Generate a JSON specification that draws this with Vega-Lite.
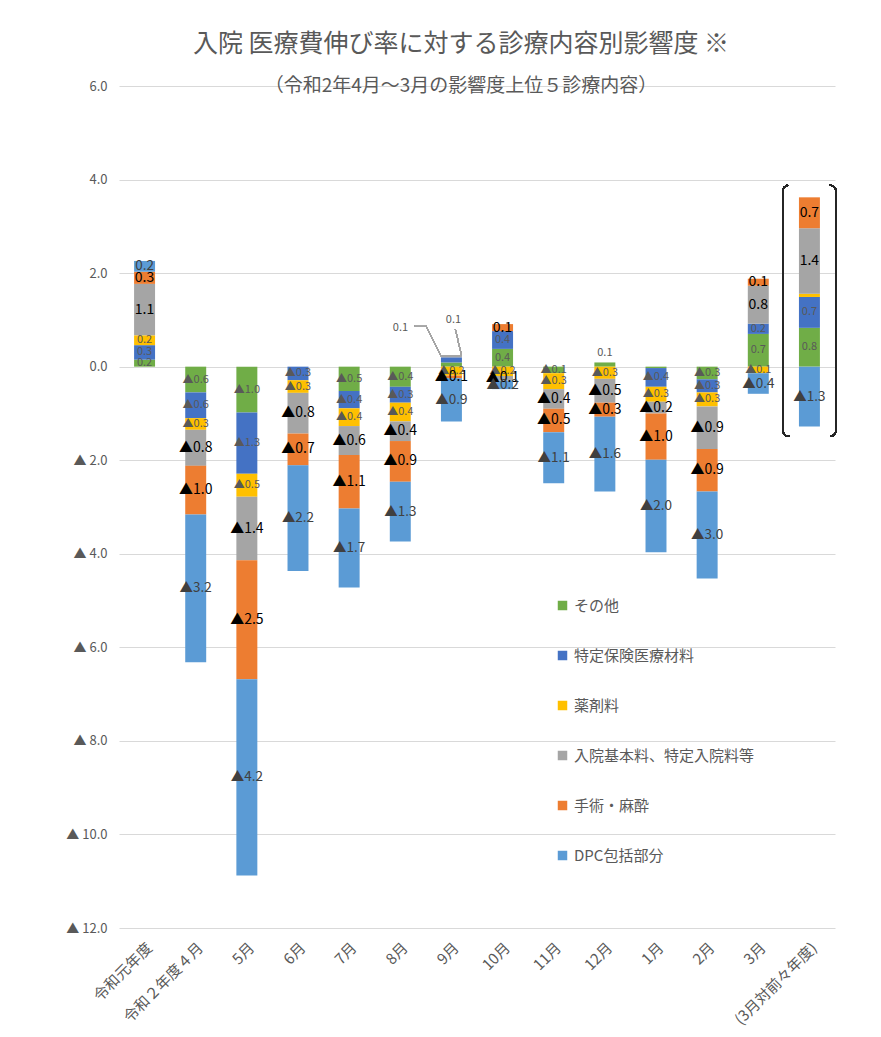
{
  "$schema": "https://vega.github.io/schema/vega-lite/v6.json",
  "width": 716,
  "height": 842,
  "autosize": "none",
  "padding": {"left": 119, "top": 86, "right": 46, "bottom": 109},
  "background": "white",
  "config": {"view": {"stroke": null}, "font": "Noto Sans CJK JP"},
  "title": {
    "text": "入院 医療費伸び率に対する診療内容別影響度 ※",
    "subtitle": "（令和2年4月～3月の影響度上位５診療内容）",
    "fontSize": 25,
    "subtitleFontSize": 19,
    "color": "#595959",
    "subtitleColor": "#595959",
    "fontWeight": "normal",
    "font": "Noto Sans CJK JP",
    "subtitleFont": "Noto Sans CJK JP",
    "anchor": "middle",
    "offset": -16,
    "dx": -16,
    "subtitlePadding": 20
  },
  "data": {"values": [
    {"m": "令和元年度", "c": "その他", "v": 0.15, "t": "0.2", "o": 1},
    {"m": "令和元年度", "c": "特定保険医療材料", "v": 0.31, "t": "0.3", "o": 2},
    {"m": "令和元年度", "c": "薬剤料", "v": 0.21, "t": "0.2", "o": 3},
    {"m": "令和元年度", "c": "入院基本料、特定入院料等", "v": 1.1, "t": "1.1", "o": 4},
    {"m": "令和元年度", "c": "手術・麻酔", "v": 0.26, "t": "0.3", "o": 5},
    {"m": "令和元年度", "c": "DPC包括部分", "v": 0.23, "t": "0.2", "o": 6},
    {"m": "令和２年度４月", "c": "その他", "v": -0.55, "t": "▲0.6", "o": 1},
    {"m": "令和２年度４月", "c": "特定保険医療材料", "v": -0.55, "t": "▲0.6", "o": 2},
    {"m": "令和２年度４月", "c": "薬剤料", "v": -0.25, "t": "▲0.3", "o": 3},
    {"m": "令和２年度４月", "c": "入院基本料、特定入院料等", "v": -0.77, "t": "▲0.8", "o": 4},
    {"m": "令和２年度４月", "c": "手術・麻酔", "v": -1.04, "t": "▲1.0", "o": 5},
    {"m": "令和２年度４月", "c": "DPC包括部分", "v": -3.16, "t": "▲3.2", "o": 6},
    {"m": "5月", "c": "その他", "v": -0.98, "t": "▲1.0", "o": 1},
    {"m": "5月", "c": "特定保険医療材料", "v": -1.31, "t": "▲1.3", "o": 2},
    {"m": "5月", "c": "薬剤料", "v": -0.49, "t": "▲0.5", "o": 3},
    {"m": "5月", "c": "入院基本料、特定入院料等", "v": -1.36, "t": "▲1.4", "o": 4},
    {"m": "5月", "c": "手術・麻酔", "v": -2.54, "t": "▲2.5", "o": 5},
    {"m": "5月", "c": "DPC包括部分", "v": -4.2, "t": "▲4.2", "o": 6},
    {"m": "6月", "c": "特定保険医療材料", "v": -0.29, "t": "▲0.3", "o": 2},
    {"m": "6月", "c": "薬剤料", "v": -0.27, "t": "▲0.3", "o": 3},
    {"m": "6月", "c": "入院基本料、特定入院料等", "v": -0.87, "t": "▲0.8", "o": 4},
    {"m": "6月", "c": "手術・麻酔", "v": -0.68, "t": "▲0.7", "o": 5},
    {"m": "6月", "c": "DPC包括部分", "v": -2.26, "t": "▲2.2", "o": 6},
    {"m": "7月", "c": "その他", "v": -0.52, "t": "▲0.5", "o": 1},
    {"m": "7月", "c": "特定保険医療材料", "v": -0.37, "t": "▲0.4", "o": 2},
    {"m": "7月", "c": "薬剤料", "v": -0.38, "t": "▲0.4", "o": 3},
    {"m": "7月", "c": "入院基本料、特定入院料等", "v": -0.62, "t": "▲0.6", "o": 4},
    {"m": "7月", "c": "手術・麻酔", "v": -1.14, "t": "▲1.1", "o": 5},
    {"m": "7月", "c": "DPC包括部分", "v": -1.69, "t": "▲1.7", "o": 6},
    {"m": "8月", "c": "その他", "v": -0.43, "t": "▲0.4", "o": 1},
    {"m": "8月", "c": "特定保険医療材料", "v": -0.34, "t": "▲0.3", "o": 2},
    {"m": "8月", "c": "薬剤料", "v": -0.4, "t": "▲0.4", "o": 3},
    {"m": "8月", "c": "入院基本料、特定入院料等", "v": -0.42, "t": "▲0.4", "o": 4},
    {"m": "8月", "c": "手術・麻酔", "v": -0.87, "t": "▲0.9", "o": 5},
    {"m": "8月", "c": "DPC包括部分", "v": -1.28, "t": "▲1.3", "o": 6},
    {"m": "9月", "c": "その他", "v": 0.09, "t": "0.1", "o": 1},
    {"m": "9月", "c": "特定保険医療材料", "v": 0.11, "t": "0.1", "o": 2},
    {"m": "9月", "c": "薬剤料", "v": -0.19, "t": "▲0.2", "o": 3},
    {"m": "9月", "c": "入院基本料、特定入院料等", "v": 0.05, "t": "", "o": 4},
    {"m": "9月", "c": "手術・麻酔", "v": -0.06, "t": "▲0.1", "o": 5},
    {"m": "9月", "c": "DPC包括部分", "v": -0.92, "t": "▲0.9", "o": 6},
    {"m": "10月", "c": "その他", "v": 0.38, "t": "0.4", "o": 1},
    {"m": "10月", "c": "特定保険医療材料", "v": 0.38, "t": "0.4", "o": 2},
    {"m": "10月", "c": "薬剤料", "v": -0.2, "t": "▲0.2", "o": 3},
    {"m": "10月", "c": "入院基本料、特定入院料等", "v": -0.1, "t": "▲0.1", "o": 4},
    {"m": "10月", "c": "手術・麻酔", "v": 0.15, "t": "0.1", "o": 5},
    {"m": "10月", "c": "DPC包括部分", "v": -0.18, "t": "▲0.2", "o": 6},
    {"m": "11月", "c": "その他", "v": -0.14, "t": "▲0.1", "o": 1},
    {"m": "11月", "c": "薬剤料", "v": -0.34, "t": "▲0.3", "o": 3},
    {"m": "11月", "c": "入院基本料、特定入院料等", "v": -0.42, "t": "▲0.4", "o": 4},
    {"m": "11月", "c": "手術・麻酔", "v": -0.5, "t": "▲0.5", "o": 5},
    {"m": "11月", "c": "DPC包括部分", "v": -1.09, "t": "▲1.1", "o": 6},
    {"m": "12月", "c": "その他", "v": 0.09, "t": "0.1", "o": 1},
    {"m": "12月", "c": "薬剤料", "v": -0.26, "t": "▲0.3", "o": 3},
    {"m": "12月", "c": "入院基本料、特定入院料等", "v": -0.51, "t": "▲0.5", "o": 4},
    {"m": "12月", "c": "手術・麻酔", "v": -0.3, "t": "▲0.3", "o": 5},
    {"m": "12月", "c": "DPC包括部分", "v": -1.6, "t": "▲1.6", "o": 6},
    {"m": "1月", "c": "その他", "v": -0.03, "t": "", "o": 1},
    {"m": "1月", "c": "特定保険医療材料", "v": -0.4, "t": "▲0.4", "o": 2},
    {"m": "1月", "c": "薬剤料", "v": -0.32, "t": "▲0.3", "o": 3},
    {"m": "1月", "c": "入院基本料、特定入院料等", "v": -0.25, "t": "▲0.2", "o": 4},
    {"m": "1月", "c": "手術・麻酔", "v": -0.99, "t": "▲1.0", "o": 5},
    {"m": "1月", "c": "DPC包括部分", "v": -1.98, "t": "▲2.0", "o": 6},
    {"m": "2月", "c": "その他", "v": -0.27, "t": "▲0.3", "o": 1},
    {"m": "2月", "c": "特定保険医療材料", "v": -0.28, "t": "▲0.3", "o": 2},
    {"m": "2月", "c": "薬剤料", "v": -0.3, "t": "▲0.3", "o": 3},
    {"m": "2月", "c": "入院基本料、特定入院料等", "v": -0.91, "t": "▲0.9", "o": 4},
    {"m": "2月", "c": "手術・麻酔", "v": -0.91, "t": "▲0.9", "o": 5},
    {"m": "2月", "c": "DPC包括部分", "v": -1.86, "t": "▲3.0", "o": 6},
    {"m": "3月", "c": "その他", "v": 0.7, "t": "0.7", "o": 1},
    {"m": "3月", "c": "特定保険医療材料", "v": 0.22, "t": "0.2", "o": 2},
    {"m": "3月", "c": "薬剤料", "v": -0.14, "t": "▲0.1", "o": 3},
    {"m": "3月", "c": "入院基本料、特定入院料等", "v": 0.81, "t": "0.8", "o": 4},
    {"m": "3月", "c": "手術・麻酔", "v": 0.15, "t": "0.1", "o": 5},
    {"m": "3月", "c": "DPC包括部分", "v": -0.44, "t": "▲0.4", "o": 6},
    {"m": "(3月対前々年度)", "c": "その他", "v": 0.83, "t": "0.8", "o": 1},
    {"m": "(3月対前々年度)", "c": "特定保険医療材料", "v": 0.66, "t": "0.7", "o": 2},
    {"m": "(3月対前々年度)", "c": "薬剤料", "v": 0.07, "t": "", "o": 3},
    {"m": "(3月対前々年度)", "c": "入院基本料、特定入院料等", "v": 1.4, "t": "1.4", "o": 4},
    {"m": "(3月対前々年度)", "c": "手術・麻酔", "v": 0.66, "t": "0.7", "o": 5},
    {"m": "(3月対前々年度)", "c": "DPC包括部分", "v": -1.28, "t": "▲1.3", "o": 6}
  ]},
  "encoding": {
    "x": {
      "field": "m",
      "type": "nominal",
      "sort": ["令和元年度", "令和２年度４月", "5月", "6月", "7月", "8月", "9月", "10月", "11月", "12月", "1月", "2月", "3月", "(3月対前々年度)"],
      "scale": {"paddingInner": 0.59, "paddingOuter": 0.295},
      "axis": {"title": null, "labelAngle": -45, "domain": false, "ticks": false, "labelPadding": 12, "labelFontSize": 15, "labelColor": "#595959", "labelFont": "Noto Sans CJK JP", "labelLimit": 300}
    }
  },
  "layer": [
    {
      "mark": {"type": "bar"},
      "encoding": {
        "y": {
          "field": "v", "type": "quantitative", "stack": "zero",
          "scale": {"domain": [-12, 6], "nice": false, "zero": false},
          "axis": {
            "title": null, "values": [-12, -10, -8, -6, -4, -2, 0, 2, 4, 6],
            "labelExpr": "datum.value < 0 ? '▲ ' + format(-datum.value, '.1f') : format(datum.value, '.1f')",
            "domain": false, "ticks": false, "labelPadding": 12, "labelFontSize": 13, "labelColor": "#595959",
            "gridColor": "#D9D9D9", "gridWidth": 1, "labelFont": "Noto Sans CJK JP"
          }
        },
        "color": {
          "field": "c", "type": "nominal",
          "scale": {
            "domain": ["その他", "特定保険医療材料", "薬剤料", "入院基本料、特定入院料等", "手術・麻酔", "DPC包括部分"],
            "range": ["#70AD47", "#4472C4", "#FFC000", "#A5A5A5", "#ED7D31", "#5B9BD5"]
          },
          "legend": {
            "orient": "none", "legendX": 436, "legendY": 512, "title": null, "direction": "vertical",
            "symbolType": "square", "symbolSize": 90, "symbolStrokeWidth": 0,
            "labelFontSize": 15, "labelColor": "#595959", "labelFont": "Noto Sans CJK JP", "labelLimit": 400,
            "rowPadding": 34, "labelOffset": 4, "padding": 0
          }
        },
        "order": {"field": "o", "type": "quantitative"}
      }
    },
    {
      "mark": {"type": "text", "font": "Noto Sans CJK JP"},
      "encoding": {
        "y": {"field": "v", "type": "quantitative", "stack": "zero", "bandPosition": 0.5},
        "detail": {"field": "c", "type": "nominal"},
        "order": {"field": "o", "type": "quantitative"},
        "text": {"condition": {"test": "(datum.m === '9月' || datum.m === '12月') && datum.v > 0", "value": ""}, "field": "t"},
        "color": {"condition": [
          {"test": "datum.c === '入院基本料、特定入院料等' || datum.c === '手術・麻酔'", "value": "#000000"},
          {"test": "datum.c === 'DPC包括部分'", "value": "#404040"}
        ], "value": "#595959"},
        "size": {"condition": [
          {"test": "datum.c === '入院基本料、特定入院料等' || datum.c === '手術・麻酔'", "value": 14},
          {"test": "datum.c === 'DPC包括部分'", "value": 13.5}
        ], "value": 11}
      }
    },
    {
      "mark": {"type": "text", "font": "Noto Sans CJK JP", "dy": -12, "fontSize": 11, "color": "#595959"},
      "encoding": {
        "y": {"field": "v", "type": "quantitative", "stack": "zero", "bandPosition": 0.5},
        "detail": {"field": "c", "type": "nominal"},
        "order": {"field": "o", "type": "quantitative"},
        "text": {"condition": {"test": "datum.m === '12月' && datum.v > 0", "field": "t"}, "value": ""}
      }
    },
    {
      "mark": {"type": "text", "font": "Noto Sans CJK JP", "dx": -51, "dy": -37, "fontSize": 11, "color": "#595959"},
      "encoding": {
        "y": {"field": "v", "type": "quantitative", "stack": "zero", "bandPosition": 0.5},
        "detail": {"field": "c", "type": "nominal"},
        "order": {"field": "o", "type": "quantitative"},
        "text": {"condition": {"test": "datum.m === '9月' && datum.c === 'その他'", "field": "t"}, "value": ""}
      }
    },
    {
      "mark": {"type": "text", "font": "Noto Sans CJK JP", "dx": 2, "dy": -40, "fontSize": 11, "color": "#595959"},
      "encoding": {
        "y": {"field": "v", "type": "quantitative", "stack": "zero", "bandPosition": 0.5},
        "detail": {"field": "c", "type": "nominal"},
        "order": {"field": "o", "type": "quantitative"},
        "text": {"condition": {"test": "datum.m === '9月' && datum.c === '特定保険医療材料'", "field": "t"}, "value": ""}
      }
    },
    {
      "mark": {"type": "rule", "color": "#A6A6A6", "strokeWidth": 1, "xOffset": -37, "x2Offset": -25},
      "encoding": {
        "x": {"datum": "9月", "type": "nominal"},
        "x2": {"datum": "9月"},
        "y": {"datum": 0.86, "type": "quantitative"},
        "y2": {"datum": 0.86}
      }
    },
    {
      "mark": {"type": "rule", "color": "#A6A6A6", "strokeWidth": 1, "xOffset": -25, "x2Offset": -10},
      "encoding": {
        "x": {"datum": "9月", "type": "nominal"},
        "x2": {"datum": "9月"},
        "y": {"datum": 0.86, "type": "quantitative"},
        "y2": {"datum": 0.22}
      }
    },
    {
      "mark": {"type": "rule", "color": "#A6A6A6", "strokeWidth": 1, "xOffset": 4, "x2Offset": 10},
      "encoding": {
        "x": {"datum": "9月", "type": "nominal"},
        "x2": {"datum": "9月"},
        "y": {"datum": 0.8, "type": "quantitative"},
        "y2": {"datum": 0.24}
      }
    },
    {
      "mark": {"type": "rect", "filled": false, "stroke": "#262626", "strokeWidth": 1.3, "cornerRadius": 6, "width": 53, "strokeDash": [0, 41, 257.5, 41, 257.5, 10]},
      "encoding": {
        "x": {"datum": "(3月対前々年度)", "type": "nominal"},
        "y": {"datum": 3.88, "type": "quantitative"},
        "y2": {"datum": -1.49}
      }
    }
  ]
}
